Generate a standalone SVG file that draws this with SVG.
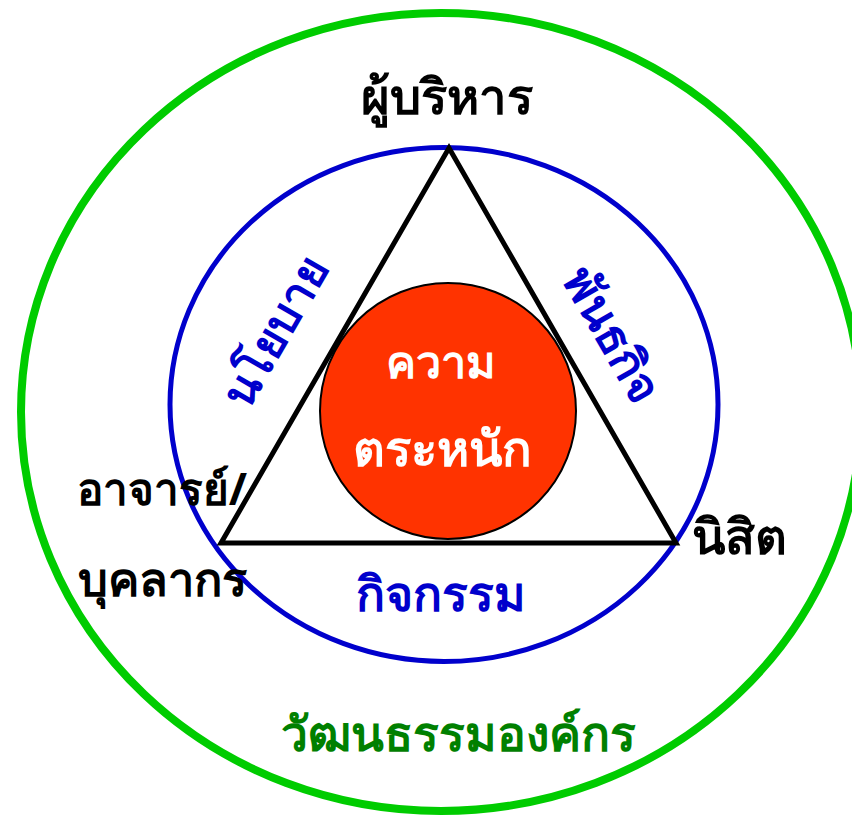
<svg xmlns="http://www.w3.org/2000/svg" width="852" height="816" viewBox="0 0 852 816">
<style>
.t{font-family:"Noto Sans","DejaVu Sans","Liberation Serif",serif;font-weight:bold;text-anchor:middle}
.blk{fill:#000}
.blu{fill:#0000CC}
.wht{fill:#fff}
.grn{fill:#008000}
</style>
<rect width="852" height="816" fill="#fff"/>
<g id="connectors">
<ellipse id="outer" cx="441" cy="412" rx="420" ry="399" fill="none" stroke="#00CC00" stroke-width="8"/>
<ellipse id="inner" cx="444" cy="404.5" rx="274" ry="257" fill="none" stroke="#0000CC" stroke-width="5"/>
<polygon id="triangle" points="449,148 676,543 221,543" fill="none" stroke="#000" stroke-width="5"/>
</g>
<g id="core">
<circle cx="448" cy="411" r="128" fill="#FF3300" stroke="#000" stroke-width="2"/>
<text class="t wht" x="441" y="378" font-size="45">ความ</text>
<text class="t wht" x="442" y="466" font-size="49">ตระหนัก</text>
</g>
<g id="n-exec"><text class="t blk" x="447" y="114" font-size="49">ผู้บริหาร</text></g>
<g id="n-policy"><text class="t blu" transform="translate(276,332) rotate(-60)" x="0" y="15" font-size="46">นโยบาย</text></g>
<g id="n-mission"><text class="t blu" transform="translate(611,336) rotate(60)" x="0" y="15" font-size="47">พันธกิจ</text></g>
<g id="n-staff"><text class="t blk" x="162" y="505" font-size="44">อาจารย์/</text><text class="t blk" x="162" y="596" font-size="47">บุคลากร</text></g>
<g id="n-activity"><text class="t blu" x="441" y="611" font-size="48">กิจกรรม</text></g>
<g id="n-student"><text class="t blk" x="739" y="554" font-size="49">นิสิต</text></g>
<g id="n-culture"><text class="t grn" x="458" y="751" font-size="48">วัฒนธรรมองค์กร</text></g>
</svg>
